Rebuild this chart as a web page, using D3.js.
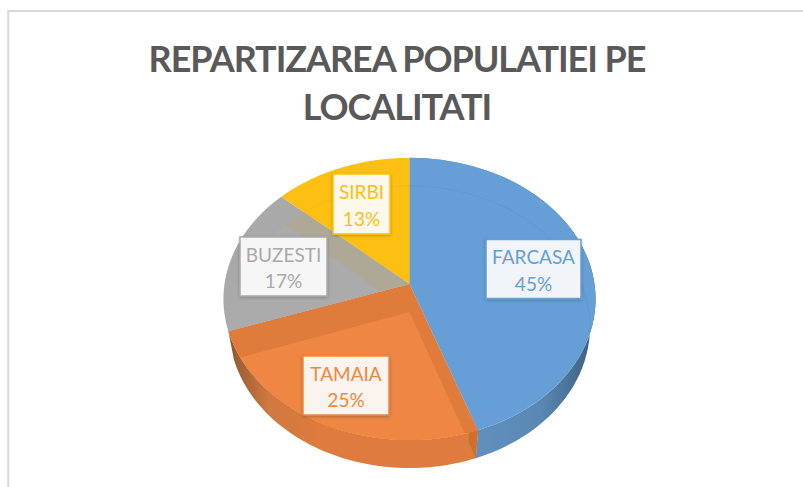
<!DOCTYPE html>
<html><head><meta charset="utf-8">
<script src="https://cdn.jsdelivr.net/npm/d3@7"></script>
<style>html,body{margin:0;background:#fff}svg{display:block}</style>
</head><body><svg id="c" width="803" height="487"></svg>
<script>
const categories = ["FARCASA","TAMAIA","BUZESTI","SIRBI"];
const values = [44.6,25.1,17.0,13.3];
const colors = ["#659FD6","#ED8743","#A9A9A9","#FDC012"];
const titleLines = ["REPARTIZAREA POPULATIEI PE","LOCALITATI"];

const svg = d3.select("#c");
const FONT = "Lato, 'Open Sans', sans-serif";
const H = 28;
const W = 803;
svg.append("path").attr("d","M8.2 487V11H"+W).attr("fill","none").attr("stroke","#D9D9D9").attr("stroke-width",2);

svg.selectAll("text.title").data(titleLines).join("text").attr("class","title")
  .attr("x",397).attr("y",(d,i)=>72+i*48).attr("text-anchor","middle")
  .attr("font-family",FONT).attr("font-weight",700).attr("font-size",36)
  .attr("letter-spacing",-1.05)
  .attr("fill","#595959").text(d=>d);

const arcs = d3.pie().sort(null).value(d=>d)(values);
// perspective projection of the unit disc; the floor sits lower and slightly narrower
const proj = (t,r=1,dy=0)=>{
  const u=r*Math.sin(t), v=-r*Math.cos(t), w=1-0.106*v;
  const k = dy ? 0.97 : 1;
  return [409.5+k*u*185/w, (109.4*v+284)/w+dy];
};
const rim = (a0,a1,dy=0)=>d3.range(0,61).map(i=>proj(a0+(a1-a0)*i/60,1,dy));
const line = d3.line();
const wedge = (a,dy=0)=>line([proj(0,0,dy),...rim(a.startAngle,a.endAngle,dy)])+"Z";
const defs = svg.append("defs");

const grad=(id,stops)=>{const g=defs.append("linearGradient").attr("id",id).attr("gradientUnits","userSpaceOnUse")
  .attr("x1",224).attr("x2",596).attr("y1",0).attr("y2",0);
  stops.forEach(s=>g.append("stop").attr("offset",s[0]).attr("stop-color",s[1]));return "url(#"+id+")";};
const sideBlue=grad("sb",[[0.67,"#5F90BF"],[0.85,"#5A88B4"],[0.96,"#46698C"],[1,"#3B5A7A"]]);
const sideOrange=grad("so",[[0,"#6E4325"],[0.03,"#9A5C34"],[0.12,"#CF7840"],[0.25,"#DE7B3D"],[1,"#DE7B3D"]]);
const sides=[sideBlue,sideOrange];

// side walls
arcs.slice(0,2).forEach((a,i)=>{
  const top=rim(a.startAngle,a.endAngle,0), bot=rim(a.startAngle,a.endAngle,H).reverse();
  svg.append("path").attr("d",line([...top,...bot])+"Z").attr("fill",sides[i]);
});
// cut wall seen at the front of orange
const orange=arcs[1];
svg.append("path").attr("d",line([proj(orange.startAngle,1,0),proj(orange.startAngle,1,H),proj(orange.startAngle,.9,H),proj(orange.startAngle,.9,0)])+"Z").attr("fill","#CF6F2E");

// top faces
svg.selectAll("path.top").data(arcs).join("path").attr("class","top")
  .attr("d",d=>wedge(d)).attr("fill",(d,i)=>colors[i]);

arcs.forEach((a,i)=>{
  defs.append("clipPath").attr("id","cl"+i).append("path").attr("d",wedge(a));
});
const over=(i,d,fill,extra={})=>{const p=svg.append("path").attr("clip-path","url(#cl"+i+")").attr("d",d).attr("fill",fill);
  Object.entries(extra).forEach(([k,v])=>p.attr(k,v));return p;};
over(1,wedge(arcs[1]),"#DF7C3B");
over(1,wedge(arcs[1],H),"#ED8743");
over(2,wedge(arcs[2],H),"#ABABAB");
over(2,wedge(arcs[3],H),"#AEA997");
over(0,wedge(arcs[0],H),"none",{stroke:"#5F99D0","stroke-width":1});
over(3,wedge(arcs[3],H),"none",{stroke:"#F3B818","stroke-width":1});

// labels
const boxes=[[533.5,269,95,59],[346,385.5,86,59],[283.5,266.5,87,59],[361.5,204,57,60]];
const f=defs.append("filter").attr("id","sh").attr("x","-20%").attr("y","-20%").attr("width","140%").attr("height","140%");
f.append("feDropShadow").attr("dx",0).attr("dy",1).attr("stdDeviation",1.5).attr("flood-color","#000").attr("flood-opacity",.25);
const lab=svg.selectAll("g.lab").data(categories).join("g").attr("class","lab");
lab.append("rect").attr("x",(d,i)=>boxes[i][0]-boxes[i][2]/2).attr("y",(d,i)=>boxes[i][1]-boxes[i][3]/2)
  .attr("width",(d,i)=>boxes[i][2]).attr("height",(d,i)=>boxes[i][3])
  .attr("fill","#fff").attr("fill-opacity",.9).attr("stroke",(d,i)=>colors[i]).attr("stroke-width",1.5).attr("filter","url(#sh)");
lab.append("text").attr("x",(d,i)=>boxes[i][0]).attr("y",(d,i)=>boxes[i][1]-5).attr("text-anchor","middle")
  .attr("font-family",FONT).attr("font-size",19).attr("fill",(d,i)=>colors[i]).text(d=>d);
lab.append("text").attr("x",(d,i)=>boxes[i][0]).attr("y",(d,i)=>boxes[i][1]+21.5).attr("text-anchor","middle")
  .attr("font-family",FONT).attr("font-size",19).attr("fill",(d,i)=>colors[i]).text((d,i)=>d3.format(".0f")(values[i])+"%");
</script></body></html>
